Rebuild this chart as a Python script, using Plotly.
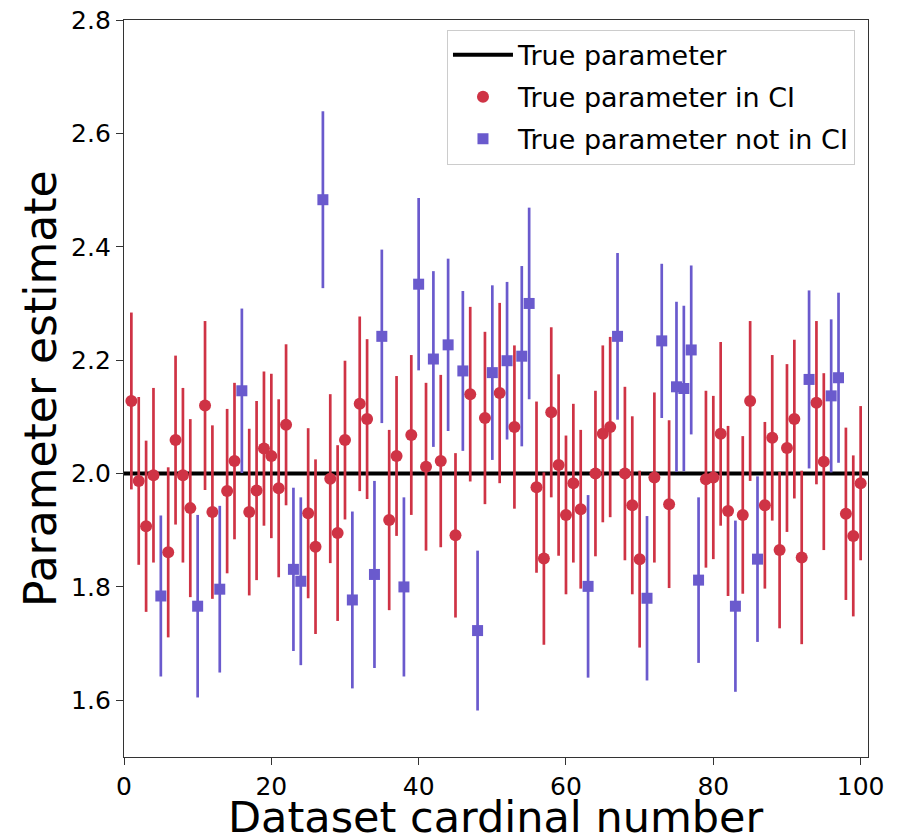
import plotly.graph_objects as go

# Datasets where the true parameter lies inside the CI
in_ci_idx = [1, 2, 3, 4, 6, 7, 8, 9, 11, 12, 14, 15, 17, 18, 19, 20, 21, 22, 25, 26,
             28, 29, 30, 32, 33, 36, 37, 39, 41, 43, 45, 47, 49, 51, 53, 56, 57, 58, 59, 60,
             61, 62, 64, 65, 66, 68, 69, 70, 72, 74, 79, 80, 81, 82, 84, 85, 87, 88, 89, 90,
             91, 92, 94, 95, 98, 99, 100]
in_ci_est = [2.128, 1.987, 1.907, 1.997, 1.861, 2.059, 1.997, 1.939, 2.120, 1.932, 1.969, 2.022,
             1.932, 1.970, 2.044, 2.031, 1.974, 2.086, 1.930, 1.871,
             1.991, 1.895, 2.059, 2.123, 2.096, 1.918, 2.031, 2.068, 2.012, 2.022, 1.891, 2.140,
             2.098, 2.142, 2.082, 1.976, 1.850, 2.108, 2.015, 1.927,
             1.983, 1.937, 2.000, 2.070, 2.082, 2.000, 1.944, 1.849, 1.993, 1.946, 1.990, 1.993,
             2.070, 1.934, 1.927, 2.128, 1.944, 2.063, 1.865, 2.045,
             2.096, 1.852, 2.125, 2.021, 1.929, 1.890, 1.983]
in_ci_err = [0.156, 0.148, 0.151, 0.154, 0.150, 0.149, 0.154, 0.157, 0.149, 0.153, 0.145, 0.138,
             0.147, 0.158, 0.136, 0.145, 0.157, 0.142, 0.150, 0.154,
             0.149, 0.155, 0.140, 0.154, 0.141, 0.159, 0.141, 0.141, 0.148, 0.152, 0.145, 0.154,
             0.152, 0.159, 0.144, 0.151, 0.152, 0.150, 0.160, 0.140,
             0.140, 0.140, 0.146, 0.156, 0.159, 0.153, 0.157, 0.156, 0.150, 0.148, 0.156, 0.144,
             0.162, 0.150, 0.139, 0.141, 0.147, 0.146, 0.138, 0.148,
             0.140, 0.153, 0.144, 0.156, 0.152, 0.142, 0.136]

# Datasets where the true parameter lies outside the CI
out_ci_idx = [5, 10, 13, 16, 23, 24, 27, 31, 34, 35, 38, 40, 42, 44, 46, 48, 50, 52, 54, 55,
              63, 67, 71, 73, 75, 76, 77, 78, 83, 86, 93, 96, 97]
out_ci_est = [1.784, 1.766, 1.796, 2.146, 1.831, 1.810, 2.483, 1.777, 1.822, 2.242, 1.800, 2.334,
              2.202, 2.227, 2.181, 1.723, 2.178, 2.199, 2.207, 2.300,
              1.801, 2.242, 1.780, 2.234, 2.153, 2.150, 2.218, 1.812, 1.766, 1.849, 2.166, 2.137, 2.169]
out_ci_err = [0.142, 0.161, 0.147, 0.145, 0.144, 0.148, 0.156, 0.156, 0.165, 0.153, 0.158, 0.152,
              0.155, 0.152, 0.141, 0.141, 0.154, 0.139, 0.159, 0.169,
              0.161, 0.147, 0.145, 0.136, 0.150, 0.146, 0.149, 0.146, 0.151, 0.146, 0.157, 0.135, 0.150]

true_param = 2.0
x_limits = [0, 101]
y_limits = [1.5, 2.8]

RED = "#cf3345"
BLUE = "#6a5acd"
FONT = "DejaVu Sans"

fig = go.Figure()

fig.add_trace(go.Scatter(
    x=x_limits, y=[true_param, true_param], mode="lines", legendgroup="a",
    line=dict(color="black", width=4), name="True parameter"))

fig.add_trace(go.Scatter(
    x=in_ci_idx, y=in_ci_est, mode="markers", name="True parameter in CI", legendgroup="b",
    marker=dict(symbol="circle", size=12, color=RED),
    error_y=dict(type="data", array=in_ci_err, visible=True, color=RED, thickness=2.7, width=0)))

fig.add_trace(go.Scatter(
    x=out_ci_idx, y=out_ci_est, mode="markers", name="True parameter not in CI", legendgroup="c",
    marker=dict(symbol="square", size=11, color=BLUE),
    error_y=dict(type="data", array=out_ci_err, visible=True, color=BLUE, thickness=2.7, width=0)))

axis_common = dict(showline=True, linecolor="#333333", linewidth=1.3, mirror=True,
                   ticks="outside", ticklen=7, tickwidth=1.3, tickcolor="#333333",
                   showgrid=False, zeroline=False, automargin=False,
                   tickfont=dict(family=FONT, size=25, color="black"))

fig.update_xaxes(range=x_limits, tick0=0, dtick=20, **axis_common)
fig.update_yaxes(range=y_limits, tick0=0, dtick=0.2, tickformat=".1f", **axis_common)

# Axis titles placed as annotations (paper coordinates) for exact positioning
fig.add_annotation(text="Dataset cardinal number", xref="paper", yref="paper",
                   x=0.5, y=-0.0447, xanchor="center", yanchor="top", showarrow=False,
                   font=dict(family=FONT, size=43, color="black"))
fig.add_annotation(text="Parameter estimate", xref="paper", yref="paper",
                   x=-0.0754, y=0.5, xanchor="right", yanchor="middle", showarrow=False,
                   textangle=-90, font=dict(family=FONT, size=44, color="black"))

fig.update_layout(
    width=903, height=838,
    margin=dict(l=124, r=35, t=20, b=81),
    plot_bgcolor="white", paper_bgcolor="white",
    font=dict(family=FONT, color="black"),
    legend=dict(x=0.9825, y=0.987, xanchor="right", yanchor="top",
                bgcolor="rgba(255,255,255,0.85)", bordercolor="#cccccc", borderwidth=1,
                tracegroupgap=4,
                font=dict(family=FONT, size=27, color="black"), itemwidth=60),
)

fig.write_html("out.html")
